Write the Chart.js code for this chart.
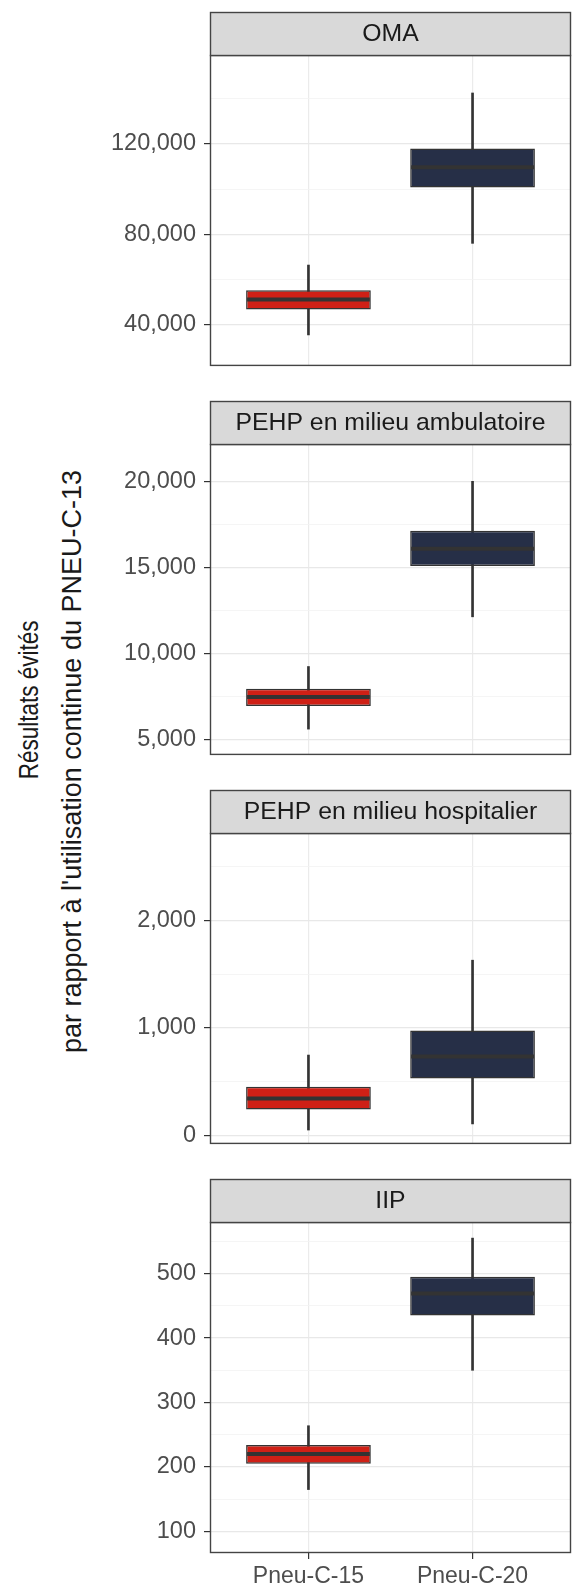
<!DOCTYPE html>
<html>
<head>
<meta charset="utf-8">
<script src="https://cdn.jsdelivr.net/npm/chart.js@4/dist/chart.umd.min.js"></script>
<style>
html,body{margin:0;padding:0;background:#fff;}
#wrap{position:relative;width:572px;height:1587px;overflow:hidden;background:#fff;}
#wrap canvas{position:absolute;left:0;}
.yt{position:absolute;white-space:nowrap;text-align:center;font-family:"Liberation Sans",Arial,Helvetica,sans-serif;color:#1a1a1a;line-height:1.15;}
</style>
</head>
<body>
<div id="wrap">
  <div class="yt" id="t1">Résultats évités</div>
  <div class="yt" id="t2">par rapport à l'utilisation continue du PNEU-C-13</div>
</div>
<script>
// ---------- DATA ----------
const categories = ['Pneu-C-15', 'Pneu-C-20'];
const panelTitles = ['OMA', 'PEHP en milieu ambulatoire', 'PEHP en milieu hospitalier', 'IIP'];

// OMA
const omaLow  = [35500, 76000];
const omaQ1   = [46700, 100700];
const omaMed  = [51200, 109700];
const omaQ3   = [55300, 117900];
const omaHigh = [66400, 142500];
const omaTicks = [40000, 80000, 120000];
const omaRange = [21800, 159300];

// PEHP en milieu ambulatoire
const ambLow  = [5590, 12120];
const ambQ1   = [6940, 15080];
const ambMed  = [7450, 16080];
const ambQ3   = [7940, 17120];
const ambHigh = [9230, 20000];
const ambTicks = [5000, 10000, 15000, 20000];
const ambRange = [4090, 22170];

// PEHP en milieu hospitalier
const hosLow  = [50, 107];
const hosQ1   = [242, 530];
const hosMed  = [343, 734];
const hosQ3   = [452, 976];
const hosHigh = [748, 1631];
const hosTicks = [0, 1000, 2000];
const hosRange = [-79, 2815];

// IIP
const iipLow  = [165, 350];
const iipQ1   = [205, 435];
const iipMed  = [220, 469];
const iipQ3   = [234, 495];
const iipHigh = [264, 555];
const iipTicks = [100, 200, 300, 400, 500];
const iipRange = [66.6, 580];

const boxFill = ['#cf2016', '#262f47'];

// ---------- LAYOUT ----------
const FONT = '"Liberation Sans", Arial, Helvetica, sans-serif';
const TOP0 = 12, STEP = 389, STRIP_H = 43, PLOT_H = 331, PLOT_LEFT = 210, W = 572, H = 1587;
const MARGIN = 2;

const panels = [
  {title: panelTitles[0], low: omaLow, q1: omaQ1, med: omaMed, q3: omaQ3, high: omaHigh, ticks: omaTicks, range: omaRange},
  {title: panelTitles[1], low: ambLow, q1: ambQ1, med: ambMed, q3: ambQ3, high: ambHigh, ticks: ambTicks, range: ambRange},
  {title: panelTitles[2], low: hosLow, q1: hosQ1, med: hosMed, q3: hosQ3, high: hosHigh, ticks: hosTicks, range: hosRange},
  {title: panelTitles[3], low: iipLow, q1: iipQ1, med: iipMed, q3: iipQ3, high: iipHigh, ticks: iipTicks, range: iipRange}
];

const facetPlugin = {
  id: 'facet',
  afterDatasetsDraw(chart, args, opts) {
    const ctx = chart.ctx;
    const meta = chart.getDatasetMeta(0);
    const ys = chart.scales.y;
    ctx.save();
    meta.data.forEach((el, k) => {
      const p = el.getProps(['x', 'width'], true);
      const y = ys.getPixelForValue(opts.med[k]);
      ctx.beginPath();
      ctx.strokeStyle = '#333333';
      ctx.lineWidth = 4;
      ctx.moveTo(p.x - p.width / 2 + 1, y);
      ctx.lineTo(p.x + p.width / 2 - 1, y);
      ctx.stroke();
    });
    ctx.restore();
  },
  afterDraw(chart, args, opts) {
    const ctx = chart.ctx;
    const a = chart.chartArea;
    ctx.save();
    // panel border
    ctx.strokeStyle = '#444444';
    ctx.lineWidth = 1.4;
    ctx.strokeRect(a.left + 0.5, a.top + 0.5, a.right - a.left - 1, a.bottom - a.top - 1);
    // strip
    const sy = a.top - STRIP_H;
    ctx.fillStyle = '#d9d9d9';
    ctx.fillRect(a.left + 0.5, sy + 0.5, a.right - a.left - 1, STRIP_H);
    ctx.strokeRect(a.left + 0.5, sy + 0.5, a.right - a.left - 1, STRIP_H);
    ctx.fillStyle = '#1a1a1a';
    ctx.font = '24.8px ' + FONT;
    ctx.textAlign = 'center';
    ctx.textBaseline = 'middle';
    ctx.fillText(opts.title, (a.left + a.right) / 2, sy + STRIP_H / 2 + 1);
    ctx.restore();
  }
};

const wrap = document.getElementById('wrap');

panels.forEach((p, i) => {
  const last = i === panels.length - 1;
  const cTop = TOP0 + STEP * i - MARGIN;
  const cH = last ? H - cTop : MARGIN + STRIP_H + PLOT_H + MARGIN;
  const canvas = document.createElement('canvas');
  canvas.width = W;
  canvas.height = cH;
  canvas.style.top = cTop + 'px';
  canvas.style.width = W + 'px';
  canvas.style.height = cH + 'px';
  wrap.appendChild(canvas);

  const majorStep = p.ticks[1] - p.ticks[0];
  const half = majorStep / 2;
  const isMajor = v => p.ticks.some(t => Math.abs(t - v) < 1e-6);

  const boxData = categories.map((c, k) => ({x: k + 1, y: [p.q1[k], p.q3[k]]}));
  const whiskerData = categories.map((c, k) => ({x: k + 1, y: [p.low[k], p.high[k]]}));

  new Chart(canvas, {
    type: 'bar',
    data: {
      datasets: [
        {
          label: 'box',
          data: boxData,
          backgroundColor: boxFill,
          borderColor: '#333333',
          borderWidth: 1.5,
          borderSkipped: false,
          barPercentage: 0.76,
          categoryPercentage: 1,
          grouped: false,
          order: 1
        },
        {
          label: 'whisker',
          data: whiskerData,
          backgroundColor: '#333333',
          borderWidth: 0,
          barThickness: 2,
          grouped: false,
          order: 2
        }
      ]
    },
    options: {
      responsive: false,
      animation: false,
      devicePixelRatio: 1,
      layout: {padding: {top: MARGIN + STRIP_H, bottom: last ? 0 : MARGIN, left: 0, right: 1}},
      plugins: {
        legend: {display: false},
        tooltip: {enabled: false},
        facet: {title: p.title, med: p.med}
      },
      scales: {
        x: {
          type: 'linear',
          min: 0.4,
          max: 2.6,
          offset: false,
          afterBuildTicks: s => { s.ticks = categories.map((c, k) => ({value: k + 1})); },
          afterFit: s => { s.height = last ? (cH - (MARGIN + STRIP_H) - PLOT_H) : 0; },
          border: {display: false},
          grid: {
            offset: false,
            color: '#ebebeb',
            lineWidth: 1.2,
            drawTicks: last,
            tickLength: 6,
            tickColor: '#333333'
          },
          ticks: {
            display: last,
            padding: 4,
            color: '#4d4d4d',
            font: {family: FONT, size: 23},
            maxRotation: 0,
            callback: v => categories[Math.round(v) - 1] || ''
          }
        },
        y: {
          type: 'linear',
          min: p.range[0],
          max: p.range[1],
          afterBuildTicks: s => {
            const vals = [];
            let v = p.ticks[0];
            while (v - half >= p.range[0]) v -= half;
            for (; v <= p.range[1]; v += half) vals.push({value: v});
            s.ticks = vals;
          },
          afterFit: s => { s.width = PLOT_LEFT; },
          border: {display: false},
          grid: {
            color: c => (c.tick && isMajor(c.tick.value)) ? '#e8e8e8' : '#f3f3f3',
            lineWidth: c => (c.tick && isMajor(c.tick.value)) ? 1.2 : 0.8,
            tickLength: 6,
            tickColor: c => (c.tick && isMajor(c.tick.value)) ? '#333333' : 'rgba(0,0,0,0)'
          },
          ticks: {
            padding: 8,
            color: '#4d4d4d',
            font: {family: FONT, size: 23.5},
            autoSkip: false,
            callback: v => isMajor(v) ? Math.round(v).toLocaleString('en-US') : ''
          }
        }
      }
    },
    plugins: [facetPlugin]
  });
});

// ---------- Y AXIS TITLE ----------
function placeTitle(id, size, cx, cy, stretch) {
  const el = document.getElementById(id);
  el.style.fontSize = size + 'px';
  const w = el.offsetWidth, h = el.offsetHeight;
  el.style.left = (cx - w / 2) + 'px';
  el.style.top = (cy - h / 2) + 'px';
  el.style.transform = 'rotate(-90deg) scaleY(' + stretch + ')';
}
placeTitle('t1', 22.5, 29, 700, 1.22);
placeTitle('t2', 27, 72, 761, 1.0);
</script>
</body>
</html>
